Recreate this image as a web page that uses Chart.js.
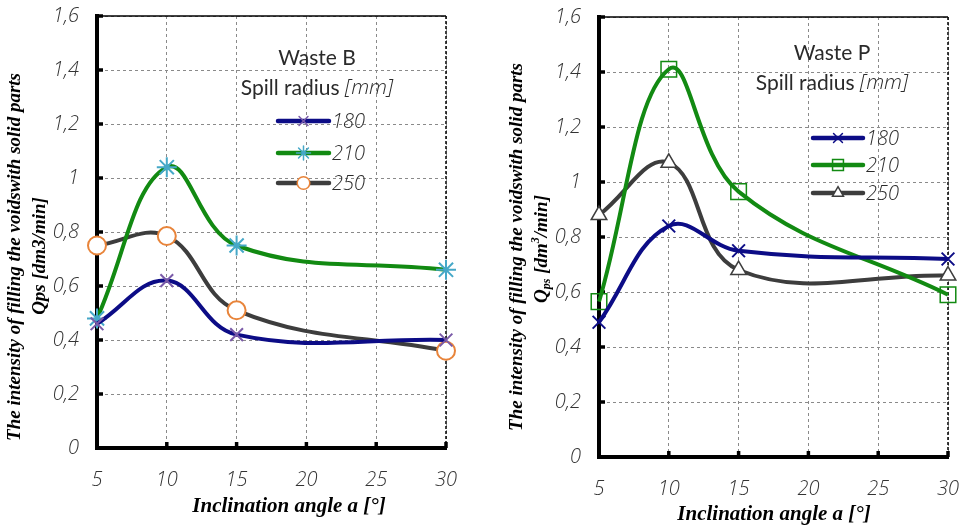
<!DOCTYPE html>
<html>
<head>
<meta charset="utf-8">
<script src="https://cdn.jsdelivr.net/npm/chart.js@4.4.1/dist/chart.umd.min.js"></script>
<style>
  html, body { margin: 0; padding: 0; background: #fff; }
  .box { position: absolute; top: 0; height: 528px; }
  #boxB { left: 0; width: 480px; }
  #boxP { left: 480px; width: 483px; }
</style>
</head>
<body>
<div class="box" id="boxB"><canvas id="chartB"></canvas></div>
<div class="box" id="boxP"><canvas id="chartP"></canvas></div>
<script>
// Data -------------------------------
var inclinationAngles = [5, 10, 15, 30];
var spillRadii = ["180", "210", "250"];

// Waste B
var wasteB180 = [0.46, 0.62, 0.42, 0.40];
var wasteB210 = [0.48, 1.04, 0.75, 0.66];
var wasteB250 = [0.75, 0.785, 0.51, 0.36];

// Waste P
var wasteP180 = [0.49, 0.84, 0.75, 0.72];
var wasteP210 = [0.565, 1.41, 0.965, 0.59];
var wasteP250 = [0.88, 1.07, 0.68, 0.66];

var yMin = 0, yMax = 1.6, yStep = 0.2;
var xMin = 5, xMax = 30, xStep = 5;

var navy = "#0c0c86";
var green = "#128a12";
var grey = "#3d3d3d";

var tickFont = { family: "'Open Sans'", style: "italic", weight: 300, size: 20 };
var legendFont = "'Open Sans'";

function toPoints(values) {
    return values.map(function (v, i) { return { x: inclinationAngles[i], y: v }; });
}

function fmtTick(v) {
    return String(Math.round(v * 10) / 10).replace(".", ",");
}

// Draw text made of parts (normal / italic / sub / sup), centred on cx, cy
function drawRich(ctx, parts, cx, cy, rotate) {
    ctx.save();
    ctx.translate(cx, cy);
    if (rotate) ctx.rotate(-Math.PI / 2);
    ctx.textBaseline = "middle";
    ctx.textAlign = "left";
    var total = 0;
    parts.forEach(function (p) {
        ctx.font = p.font;
        p.w = ctx.measureText(p.t).width;
        total += p.w;
    });
    var px = -total / 2;
    parts.forEach(function (p) {
        ctx.font = p.font;
        ctx.fillStyle = p.color || "#000";
        ctx.fillText(p.t, px, p.dy || 0);
        px += p.w;
    });
    ctx.restore();
}

var framePlugin = {
    id: "frame",
    beforeDatasetsDraw: function (chart) {
        var ctx = chart.ctx, a = chart.chartArea;
        var x = chart.scales.x, y = chart.scales.y;
        ctx.save();
        ctx.setLineDash([]);
        // top border
        ctx.strokeStyle = "#000";
        ctx.lineWidth = 1.5;
        ctx.beginPath();
        ctx.moveTo(a.left, a.top);
        ctx.lineTo(a.right, a.top);
        ctx.stroke();
        // right border (dashed)
        ctx.setLineDash([3, 2]);
        ctx.beginPath();
        ctx.moveTo(a.right, a.top);
        ctx.lineTo(a.right, a.bottom);
        ctx.stroke();
        ctx.setLineDash([]);
        // small inner tick marks
        ctx.lineWidth = 3.5;
        y.ticks.forEach(function (t) {
            var py = y.getPixelForValue(t.value);
            ctx.beginPath();
            ctx.moveTo(a.left, py);
            ctx.lineTo(a.left + 6, py);
            ctx.stroke();
        });
        x.ticks.forEach(function (t) {
            var px = x.getPixelForValue(t.value);
            ctx.beginPath();
            ctx.moveTo(px, a.bottom);
            ctx.lineTo(px, a.bottom - 6);
            ctx.stroke();
        });
        ctx.restore();
    },
    afterDraw: function (chart, args, opts) {
        var ctx = chart.ctx;
        ctx.save();
        ctx.setLineDash([]);
        // axis titles
        opts.yTitle.forEach(function (line) {
            drawRich(ctx, line.parts, line.x, line.y, true);
        });
        drawRich(ctx, [{ t: "Inclination angle a [°]", font: "italic bold 21px 'Liberation Serif'" }],
                 opts.xTitle.x, opts.xTitle.y, false);

        // legend
        var lg = opts.legend;
        drawRich(ctx, [{ t: lg.title, font: "21px Lato", color: "#2a2a2a" }], lg.cx, lg.titleY, false);
        drawRich(ctx, [
            { t: "Spill radius ", font: "21px Lato", color: "#2a2a2a" },
            { t: "[mm]", font: "italic 300 21px " + legendFont, color: "#2a2a2a" }
        ], lg.cx, lg.subY, false);
        chart.data.datasets.forEach(function (ds, i) {
            var ry = lg.rows[i];
            ctx.save();
            ctx.setLineDash([]);
            ctx.strokeStyle = ds.borderColor;
            ctx.lineWidth = 4.5;
            ctx.lineCap = "round";
            ctx.beginPath();
            ctx.moveTo(lg.x0, ry);
            ctx.lineTo(lg.x1, ry);
            ctx.stroke();
            ctx.fillStyle = ds.pointBackgroundColor;
            ctx.strokeStyle = ds.pointBorderColor;
            ctx.lineWidth = 1.5;
            Chart.helpers.drawPoint(ctx, {
                pointStyle: ds.pointStyle, radius: ds.pointRadius * 0.7,
                borderWidth: 1.5, rotation: 0
            }, (lg.x0 + lg.x1) / 2, ry);
            ctx.fillStyle = "#2a2a2a";
            ctx.font = "italic 300 20px " + legendFont;
            ctx.textBaseline = "middle";
            ctx.textAlign = "left";
            ctx.fillText(ds.label, lg.x1 + 3, ry + 1);
            ctx.restore();
        });
        ctx.restore();
    }
};

function makeChart(canvasId, datasets, geo, frameOpts) {
    var ctx = document.getElementById(canvasId).getContext("2d");
    return new Chart(ctx, {
        type: "line",
        data: { datasets: datasets },
        plugins: [framePlugin],
        options: {
            responsive: true,
            maintainAspectRatio: false,
            animation: false,
            layout: { padding: { top: geo.top, right: geo.right, left: 0, bottom: 0 } },
            plugins: {
                legend: { display: false },
                tooltip: { enabled: false },
                frame: frameOpts
            },
            elements: { line: { tension: 0.4 } },
            scales: {
                x: {
                    type: "linear",
                    min: xMin, max: xMax,
                    // fixed axis box, no extra room for the end labels
                    afterFit: function (s) {
                        s.height = geo.xHeight;
                        s.paddingLeft = 0;
                        s.paddingRight = 0;
                    },
                    ticks: {
                        stepSize: xStep,
                        padding: 20,
                        color: "#333",
                        font: tickFont
                    },
                    grid: { color: "#8a8a8a", lineWidth: 1, drawTicks: false },
                    border: { color: "#000", width: 4, dash: [3, 3] }
                },
                y: {
                    min: yMin, max: yMax,
                    afterFit: function (s) {
                        s.width = geo.yWidth;
                        s.paddingTop = 0;
                        s.paddingBottom = 0;
                    },
                    ticks: {
                        stepSize: yStep,
                        padding: 18,
                        color: "#333",
                        font: tickFont,
                        callback: function (v) { return fmtTick(v); }
                    },
                    grid: { color: "#8a8a8a", lineWidth: 1, drawTicks: false },
                    border: { color: "#000", width: 4, dash: [3, 3] }
                }
            }
        }
    });
}

function series(label, values, color, style, radius, markColor, markFill, markWidth) {
    return {
        label: label,
        data: toPoints(values),
        borderColor: color,
        borderWidth: 4,
        pointStyle: style,
        pointRadius: radius,
        pointBorderColor: markColor,
        pointBackgroundColor: markFill,
        pointBorderWidth: markWidth,
        clip: false
    };
}

var serifTitle = "italic bold 19px 'Liberation Serif'";
var serifSmall = "italic bold 12px 'Liberation Serif'";

// Waste B chart ----------
makeChart("chartB", [
    series(spillRadii[0], wasteB180, navy, "crossRot", 9, "#7a5aa8", "#7a5aa8", 2),
    series(spillRadii[1], wasteB210, green, "star", 10, "#45a8c8", "#45a8c8", 2),
    series(spillRadii[2], wasteB250, grey, "circle", 9, "#e8843a", "#ffffff", 2)
], { top: 16, right: 34, yWidth: 97, xHeight: 80 }, {
    yTitle: [
        { x: 15, y: 257, parts: [{ t: "The intensity of filling the voidswith solid parts", font: serifTitle }] },
        { x: 40, y: 256, parts: [{ t: "Qps [dm3/min]", font: serifTitle }] }
    ],
    xTitle: { x: 289, y: 507 },
    legend: { title: "Waste B", cx: 317, titleY: 58, subY: 88, x0: 278, x1: 329, rows: [121, 153, 183] }
});

// Waste P chart ----------
makeChart("chartP", [
    series(spillRadii[0], wasteP180, navy, "crossRot", 9, navy, navy, 2),
    series(spillRadii[1], wasteP210, green, "rect", 11, green, "rgba(255,255,255,0)", 1.5),
    series(spillRadii[2], wasteP250, grey, "triangle", 9, grey, "#ffffff", 1.5)
], { top: 17, right: 15, yWidth: 119, xHeight: 71 }, {
    yTitle: [
        { x: 37, y: 247, parts: [{ t: "The intensity of filling the voidswith solid parts", font: serifTitle }] },
        { x: 62, y: 249, parts: [
            { t: "Q", font: serifTitle },
            { t: "ps", font: serifSmall, dy: 5 },
            { t: " [dm", font: serifTitle },
            { t: "3", font: serifSmall, dy: -6 },
            { t: "/min]", font: serifTitle }
        ] }
    ],
    xTitle: { x: 294, y: 515 },
    legend: { title: "Waste P", cx: 352, titleY: 53, subY: 83, x0: 333, x1: 383, rows: [138, 165, 193] }
});
</script>
</body>
</html>
